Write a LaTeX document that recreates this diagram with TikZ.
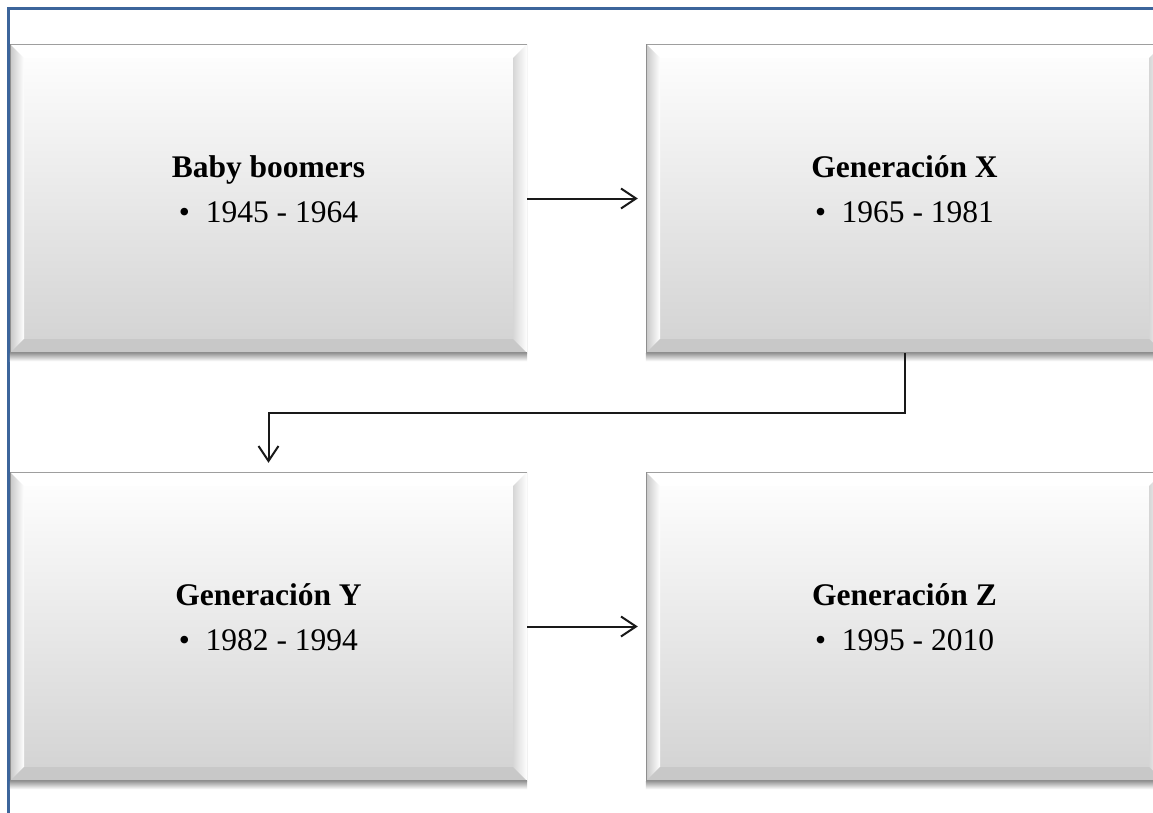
\documentclass[tikz,border=0pt]{standalone}
\usepackage{fontspec}
\setmainfont{Liberation Serif}
\usetikzlibrary{arrows.meta}

\definecolor{framecol}{HTML}{3C659B}
\definecolor{facebot}{HTML}{D2D2D2}
\definecolor{bevelbot}{HTML}{C8C8C8}
\definecolor{edgegray}{HTML}{8E8E8E}

\tikzset{
  genbox/.style={minimum width=517pt, minimum height=309pt, inner sep=0pt,
    align=center, text depth=18pt, top color=white, bottom color=facebot,
    font=\fontsize{31.5}{45}\selectfont,
    path picture={
      \coordinate (nw) at (path picture bounding box.north west);
      \coordinate (ne) at (path picture bounding box.north east);
      \coordinate (sw) at (path picture bounding box.south west);
      \coordinate (se) at (path picture bounding box.south east);
      %top bevel
      \fill[white] (nw) -- (ne) -- ([xshift=-14pt,yshift=-14pt]ne)
        -- ([xshift=14pt,yshift=-14pt]nw) -- cycle;
      %left bevel
      \shade[left color=black!22, right color=white] (nw)
        -- ([xshift=14pt,yshift=-14pt]nw) -- ([xshift=14pt,yshift=14pt]sw)
        -- (sw) -- cycle;
      %right bevel
      \shade[left color=black!16, right color=white] (ne)
        -- ([xshift=-14pt,yshift=-14pt]ne) -- ([xshift=-14pt,yshift=14pt]se)
        -- (se) -- cycle;
      %bottom bevel
      \fill[bevelbot] (sw) -- ([xshift=14pt,yshift=14pt]sw)
        -- ([xshift=-14pt,yshift=14pt]se) -- (se) -- cycle;
      %outer edges
      \draw[black!38, line width=1.4pt] (nw) -- (ne);
      \draw[edgegray, line width=2.4pt] (nw) -- (sw) -- (se);
      \draw[black!25, line width=1pt] (ne) -- (se);
    }},
  link/.style={line width=2pt, black!90, -{Straight Barb[length=15pt,width=20pt]}},
}

\begin{document}
\begin{tikzpicture}[x=1pt, y=-1pt]
  \useasboundingbox (0,0) rectangle (1153,812);
  \fill[white] (0,0) rectangle (1153,812);

  %frame
  \draw[framecol, line width=3pt] (1180,8) -- (8,8) -- (8,840);

  %generations
  \node [genbox] (bb) at (268.5,198.5) {\textbf{Baby boomers}\\•\enspace 1945 - 1964};
  \node [genbox] (gx) at (904.5,198.5) {\textbf{Generación X}\\•\enspace 1965 - 1981};
  \node [genbox] (gy) at (268.5,626.5) {\textbf{Generación Y}\\•\enspace 1982 - 1994};
  \node [genbox] (gz) at (904.5,626.5) {\textbf{Generación Z}\\•\enspace 1995 - 2010};

  %shadows
  \foreach \b in {bb,gx,gy,gz}
    \shade[top color=black!40, bottom color=white]
      (\b.south west) rectangle ([yshift=-8pt]\b.south east);

  \draw [link, shorten >=8pt] (bb) -- (gx);
  \draw [link, shorten >=9pt] (gx.south) -- ++(0,60) -| (gy.north);
  \draw [link, shorten >=8pt] (gy) -- (gz);

\end{tikzpicture}
\end{document}
